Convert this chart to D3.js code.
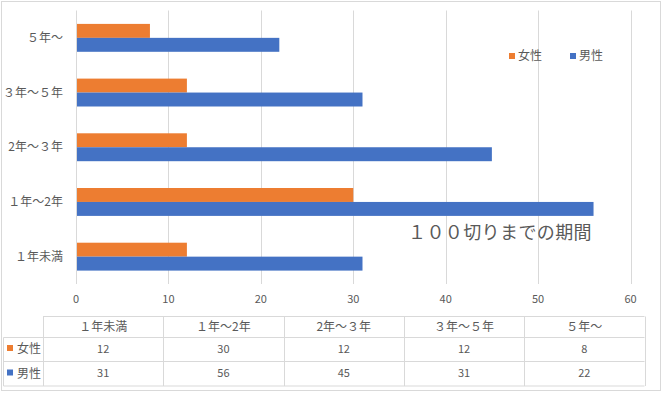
<!DOCTYPE html>
<html>
<head>
<meta charset="utf-8">
<script src="https://cdn.jsdelivr.net/npm/d3@7"></script>
<style>
  body { margin: 0; background: #fff; }
  svg text { font-family: "Noto Sans CJK JP", "Noto Sans", sans-serif; fill: #595959; }
</style>
</head>
<body>
<svg id="chart"></svg>
<script>
// data
const categories = ['１年未満', '１年～2年', '2年～３年', '３年～５年', '５年～'];
const seriesNames = ['女性', '男性'];
const female = [12, 30, 12, 12, 8];
const male = [31, 56, 45, 31, 22];
const xTicks = [0, 10, 20, 30, 40, 50, 60];
const chartTitle = '１００切りまでの期間';

const colors = { '女性': '#ED7D31', '男性': '#4472C4' };
const gridColor = '#d9d9d9';

const width = 664, height = 394;
const plot = { left: 76, right: 630.5, top: 10.5, bottom: 284 };

const svg = d3.select('#chart')
  .attr('width', width)
  .attr('height', height);

// outer frame
svg.append('rect')
  .attr('x', 1.5).attr('y', 1.5)
  .attr('width', 659).attr('height', 389)
  .attr('fill', '#fff')
  .attr('stroke', gridColor);

// scales
const x = d3.scaleLinear().domain([0, 60]).range([plot.left, plot.right]);
// bottom-up order like Excel bar chart
const y = d3.scaleBand()
  .domain(categories)
  .range([plot.bottom, plot.top])
  .paddingInner(0.49)
  .paddingOuter(0.245);
const ySub = d3.scaleBand().domain(seriesNames).range([0, y.bandwidth()]);

// gridlines
svg.append('g')
  .selectAll('line')
  .data(xTicks.slice(1))
  .join('line')
  .attr('x1', d => Math.round(x(d)) + 0.5)
  .attr('x2', d => Math.round(x(d)) + 0.5)
  .attr('y1', plot.top)
  .attr('y2', plot.bottom)
  .attr('stroke', gridColor);

// bars
const rows = categories.map((c, i) => ({ cat: c, '女性': female[i], '男性': male[i] }));
svg.append('g')
  .selectAll('g')
  .data(rows)
  .join('g')
  .attr('transform', d => `translate(0,${y(d.cat)})`)
  .selectAll('rect')
  .data(d => seriesNames.map(s => ({ s, v: d[s] })))
  .join('rect')
  .attr('x', x(0))
  .attr('y', d => ySub(d.s))
  .attr('width', d => x(d.v) - x(0))
  .attr('height', ySub.bandwidth())
  .attr('fill', d => colors[d.s]);

// category axis line
svg.append('line')
  .attr('x1', plot.left + 0.5).attr('x2', plot.left + 0.5)
  .attr('y1', plot.top).attr('y2', plot.bottom)
  .attr('stroke', gridColor);

// category labels
svg.append('g')
  .selectAll('text')
  .data(categories)
  .join('text')
  .attr('x', 63)
  .attr('y', d => y(d) + y.bandwidth() / 2)
  .attr('dy', '0.35em')
  .attr('text-anchor', 'end')
  .attr('font-size', 12)
  .text(d => d);

// value tick labels
svg.append('g')
  .selectAll('text')
  .data(xTicks)
  .join('text')
  .attr('x', d => x(d))
  .attr('y', 299)
  .attr('dy', '0.35em')
  .attr('text-anchor', 'middle')
  .attr('font-size', 11)
  .text(d => d);

// legend
const legend = svg.append('g')
  .selectAll('g')
  .data(seriesNames)
  .join('g')
  .attr('transform', (d, i) => `translate(${509 + i * 61},0)`);
legend.append('rect')
  .attr('x', 0).attr('y', 53)
  .attr('width', 6).attr('height', 6)
  .attr('fill', d => colors[d]);
legend.append('text')
  .attr('x', 9).attr('y', 56)
  .attr('dy', '0.35em')
  .attr('font-size', 12)
  .text(d => d);

// title-like label inside plot
svg.append('text')
  .attr('x', 408).attr('y', 233)
  .attr('dy', '0.35em')
  .attr('font-size', 18)
  .attr('letter-spacing', 0.4)
  .text(chartTitle);

// data table
const table = { left: 43, right: 644.5, top: 316.5, headBottom: 337.5, row1: 361.5, bottom: 386, labelLeft: 3.5 };
const colW = (table.right - table.left) / categories.length;
const tg = svg.append('g').attr('stroke', gridColor).attr('fill', 'none');
tg.append('line').attr('x1', table.left).attr('x2', table.right).attr('y1', table.top).attr('y2', table.top);
tg.append('line').attr('x1', table.labelLeft).attr('x2', table.right).attr('y1', table.headBottom).attr('y2', table.headBottom);
tg.append('line').attr('x1', table.labelLeft).attr('x2', table.right).attr('y1', table.row1).attr('y2', table.row1);
tg.append('line').attr('x1', table.labelLeft).attr('x2', table.right).attr('y1', table.bottom).attr('y2', table.bottom);
tg.append('line').attr('x1', table.labelLeft).attr('x2', table.labelLeft).attr('y1', table.headBottom).attr('y2', table.bottom);
tg.selectAll('line.col')
  .data(d3.range(categories.length + 1))
  .join('line')
  .attr('class', 'col')
  .attr('x1', i => Math.round(table.left + i * colW) + 0.5)
  .attr('x2', i => Math.round(table.left + i * colW) + 0.5)
  .attr('y1', table.top).attr('y2', table.bottom);

const cellX = i => table.left + colW * (i + 0.5);
svg.append('g')
  .selectAll('text')
  .data(categories)
  .join('text')
  .attr('x', (d, i) => cellX(i))
  .attr('y', 327)
  .attr('dy', '0.35em')
  .attr('text-anchor', 'middle')
  .attr('font-size', 12)
  .text(d => d);

const tableRows = [
  { name: '女性', values: female, cy: 349 },
  { name: '男性', values: male, cy: 373.5 }
];
tableRows.forEach(r => {
  svg.append('rect')
    .attr('x', 7).attr('y', r.cy - 4)
    .attr('width', 6).attr('height', 6)
    .attr('fill', colors[r.name]);
  svg.append('text')
    .attr('x', 17).attr('y', r.cy)
    .attr('dy', '0.35em')
    .attr('font-size', 12)
    .text(r.name);
  svg.append('g')
    .selectAll('text')
    .data(r.values)
    .join('text')
    .attr('x', (d, i) => cellX(i))
    .attr('y', r.cy)
    .attr('dy', '0.35em')
    .attr('text-anchor', 'middle')
    .attr('font-size', 11)
    .text(d => d);
});
</script>
</body>
</html>
